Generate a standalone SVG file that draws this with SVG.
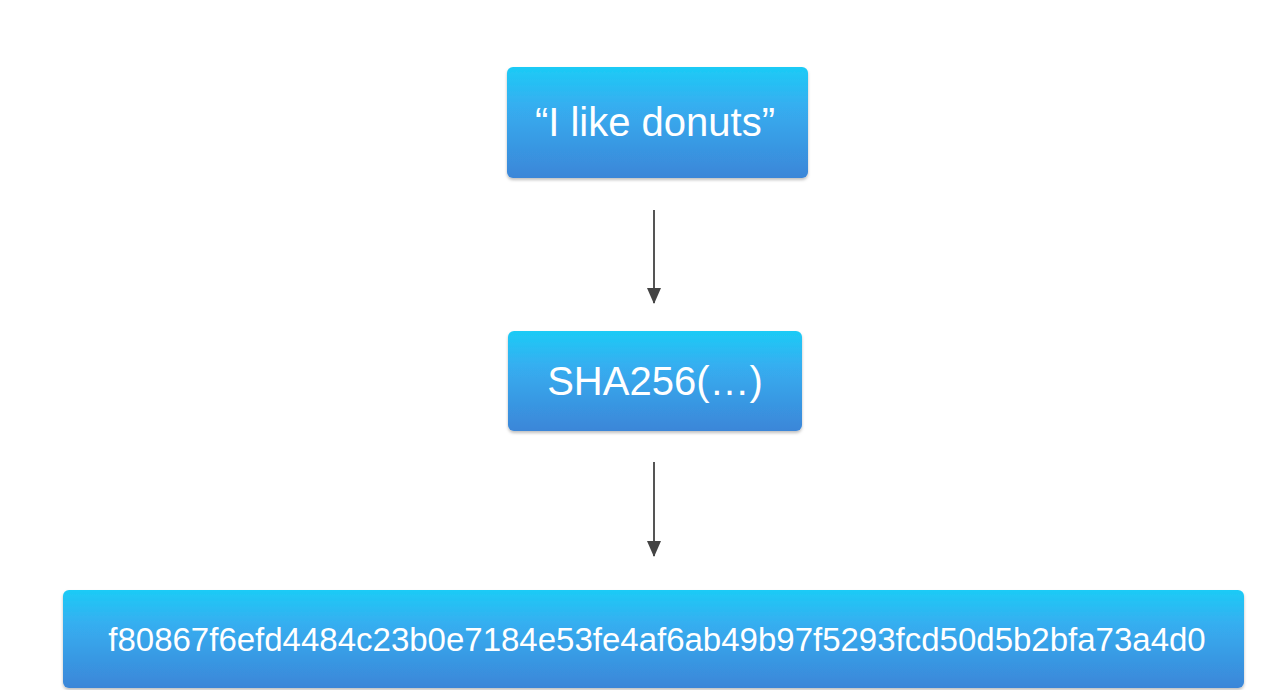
<svg xmlns="http://www.w3.org/2000/svg" width="1283" height="690" viewBox="0 0 1283 690">
<style>
.box{fill:url(#g);}
.lbl{font-family:"Liberation Sans",Arial,sans-serif;fill:#ffffff;text-anchor:middle;}
.conn{stroke:#555555;stroke-width:2;fill:none;}
</style>
<defs>
<linearGradient id="g" x1="0" y1="0" x2="0" y2="1">
<stop offset="0" stop-color="#1ccbf6"/>
<stop offset="0.35" stop-color="#36aef0"/>
<stop offset="1" stop-color="#3b86d8"/>
</linearGradient>
<filter id="sh" x="-5%" y="-10%" width="110%" height="125%">
<feDropShadow dx="0" dy="2" stdDeviation="1.5" flood-color="#000" flood-opacity="0.25"/>
</filter>
<marker id="ah" markerWidth="16" markerHeight="14" refX="15" refY="7" orient="auto" markerUnits="userSpaceOnUse">
<path d="M0,0 L16,7 L0,14 z" fill="#444444"/>
</marker>
</defs>
<rect width="1283" height="690" fill="#ffffff"/>
<g id="connectors">
<line class="conn" x1="654" y1="210" x2="654" y2="303" marker-end="url(#ah)"/>
<line class="conn" x1="654" y1="462" x2="654" y2="556" marker-end="url(#ah)"/>
</g>
<g id="node-input">
<rect class="box" x="507" y="67" width="301" height="111" rx="6" filter="url(#sh)"/>
<text class="lbl" x="655" y="136" font-size="40">“I like donuts”</text>
</g>
<g id="node-sha">
<rect class="box" x="508" y="331" width="294" height="100" rx="6" filter="url(#sh)"/>
<text class="lbl" x="655" y="395" font-size="40">SHA256(…)</text>
</g>
<g id="node-hash">
<rect class="box" x="63" y="590" width="1181" height="98" rx="6" filter="url(#sh)"/>
<text class="lbl" x="657" y="651" font-size="33">f80867f6efd4484c23b0e7184e53fe4af6ab49b97f5293fcd50d5b2bfa73a4d0</text>
</g>
</svg>
